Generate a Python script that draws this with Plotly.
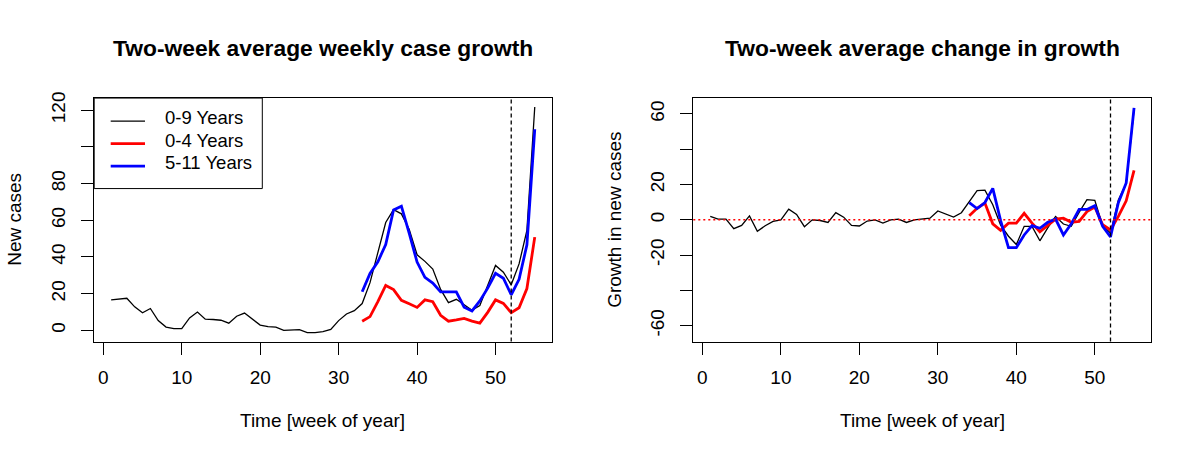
import plotly.graph_objects as go

# ---------------- data ----------------
weeks_all = list(range(1, 56))
weeks_late = list(range(33, 56))
weeks_late_r = list(range(34, 56))

cases_0_9 = [16.6, 17.0, 17.5, 12.8, 9.6, 11.9, 5.3, 1.8, 0.9, 0.9,
             6.8, 10.0, 6.1, 5.9, 5.5, 3.9, 7.7, 9.4, 6.0, 2.9,
             2.0, 1.8, 0.0, 0.0, 0.4, -1.2, -1.2, -0.7, 0.5, 5.3,
             8.9, 10.7, 14.6, 26.0, 42.0, 58.8, 65.8, 63.5, 55.0, 41.2,
             37.6, 33.4, 22.3, 15.1, 16.9, 14.0, 11.0, 13.5, 24.6, 35.4,
             31.7, 24.8, 36.2, 54.5, 121.7]
cases_0_4 = [5.0, 7.5, 15.7, 24.5, 22.2, 16.4, 14.5, 12.5, 16.6, 15.6,
             8.2, 5.0, 5.7, 6.5, 5.0, 3.9, 9.8, 16.6, 14.7, 9.6,
             12.3, 22.8, 50.8]
cases_5_11 = [21.0, 31.0, 37.4, 46.8, 65.6, 67.7, 52.8, 37.2, 28.9, 25.8,
              21.0, 20.8, 21.0, 12.6, 10.6, 16.0, 23.0, 31.1, 28.4, 19.4,
              27.8, 46.6, 109.6]

growth_0_9 = [1.9, 0.4, 0.4, -5.0, -3.2, 2.2, -6.5, -3.4, -0.9, 0.0,
              6.0, 3.0, -3.9, 0.0, -0.4, -1.5, 4.1, 1.5, -3.2, -3.5,
              -0.7, 0.0, -1.9, 0.0, 0.4, -1.5, 0.0, 0.4, 0.9, 5.0,
              3.4, 1.5, 4.0, 10.3, 16.6, 16.8, 8.5, -3.0, -9.3, -14.0,
              -3.7, -3.7, -11.9, -4.6, 1.9, -2.4, -3.7, 4.2, 11.4, 11.0,
              -3.3, -7.5, 11.2, 20.5, 62.4]
growth_0_4 = [2.3, 6.5, 9.5, -2.3, -6.0, -1.9, -1.9, 3.7, -1.9, -6.8,
              -3.2, 0.4, 0.9, -1.4, -0.9, 4.7, 7.3, -2.8, -5.8, 1.9,
              10.8, 28.0]
growth_5_11 = [9.7, 6.4, 9.8, 17.8, -0.5, -15.8, -15.8, -8.6, -3.3, -4.8,
               -1.4, 0.4, -8.6, -2.3, 5.9, 5.9, 8.0, -3.7, -9.7, 9.7,
               20.9, 63.4]

x_ticks = [0, 10, 20, 30, 40, 50]
x_ticktext = ["0", "10", "20", "30", "40", "50"]
y1_ticks = [0, 20, 40, 60, 80, 100, 120]
y1_ticktext = ["0", "20", "40", "60", "80", "", "120"]
y2_ticks = [-60, -40, -20, 0, 20, 40, 60]
y2_ticktext = ["-60", "", "-20", "0", "20", "", "60"]

week_marker = 52
series_names = ["0-9 Years", "0-4 Years", "5-11 Years"]
colors = ["#000000", "#FF0000", "#0000FF"]
widths = [1.3, 2.8, 2.8]

# ---------------- figure ----------------
FONT = "Liberation Sans, Arial, Helvetica, sans-serif"
W, H = 1200, 457


def px(x):
    return x / W


def py(y):
    return 1 - y / H


fig = go.Figure()

left_series = [(weeks_all, cases_0_9), (weeks_late, cases_0_4), (weeks_late, cases_5_11)]
right_series = [(weeks_all, growth_0_9), (weeks_late_r, growth_0_4), (weeks_late_r, growth_5_11)]
for i, (xs, ys) in enumerate(left_series):
    fig.add_trace(go.Scatter(x=xs, y=ys, mode="lines", name=series_names[i], showlegend=False,
                             line=dict(color=colors[i], width=widths[i]), xaxis="x", yaxis="y"))
for i, (xs, ys) in enumerate(right_series):
    fig.add_trace(go.Scatter(x=xs, y=ys, mode="lines", name=series_names[i], showlegend=False,
                             line=dict(color=colors[i], width=widths[i]), xaxis="x2", yaxis="y2"))

# panel boxes in pixels
L1, R1 = 94.2, 551.7
L2, R2 = 693.3, 1151.0
TOP, BOT = 93.3, 340.0
ydom = [py(BOT), py(TOP)]

common_x = dict(range=[-1.16, 57.16], tickvals=x_ticks, ticktext=x_ticktext,
                ticks="outside", ticklen=12, tickwidth=1, tickcolor="black",
                showline=True, linecolor="black", linewidth=1, mirror=True,
                showgrid=False, zeroline=False, ticklabelstandoff=7,
                tickfont=dict(family=FONT, size=19, color="black"))
common_y = dict(ticks="outside", ticklen=12, tickwidth=1, tickcolor="black",
                showline=True, linecolor="black", linewidth=1, mirror=True,
                showgrid=False, zeroline=False, tickangle=-90, ticklabelstandoff=9,
                tickfont=dict(family=FONT, size=19, color="black"))

fig.update_layout(
    width=W, height=H,
    margin=dict(l=0, r=0, t=0, b=0),
    paper_bgcolor="white", plot_bgcolor="white",
    font=dict(family=FONT, color="black"),
    xaxis=dict(domain=[px(L1), px(R1)], anchor="y", **common_x),
    yaxis=dict(domain=ydom, anchor="x", range=[-6.1, 126.6],
               tickvals=y1_ticks, ticktext=y1_ticktext, **common_y),
    xaxis2=dict(domain=[px(L2), px(R2)], anchor="y2", **common_x),
    yaxis2=dict(domain=ydom, anchor="x2", range=[-69, 69],
                tickvals=y2_ticks, ticktext=y2_ticktext, **common_y),
    showlegend=False,
)

# reference lines
shapes = [
    dict(type="line", xref="x", yref="y domain", x0=week_marker, x1=week_marker, y0=0, y1=1,
         line=dict(color="black", width=1.3, dash="4px,3px")),
    dict(type="line", xref="x2", yref="y2 domain", x0=week_marker, x1=week_marker, y0=0, y1=1,
         line=dict(color="black", width=1.3, dash="4px,3px")),
    dict(type="line", xref="x2 domain", yref="y2", x0=0, x1=1, y0=0, y1=0,
         line=dict(color="#FF0000", width=1.5, dash="2px,3px")),
]

# legend (drawn like R's legend box)
LEG_L, LEG_R, LEG_T, LEG_B = 94.2, 262.3, 93.3, 185.0
shapes.append(dict(type="rect", xref="paper", yref="paper",
                   x0=px(LEG_L), x1=px(LEG_R), y0=py(LEG_B), y1=py(LEG_T),
                   line=dict(color="black", width=1), fillcolor="white", layer="above"))
ann = []
row_y = [116.7, 139.5, 162.3]
for i, name in enumerate(series_names):
    shapes.append(dict(type="line", xref="paper", yref="paper",
                       x0=px(110.7), x1=px(145.0), y0=py(row_y[i]), y1=py(row_y[i]),
                       line=dict(color=colors[i], width=widths[i]), layer="above"))
    ann.append(dict(text=name, x=px(162.7), y=py(row_y[i] - 3.5), xref="paper", yref="paper",
                    showarrow=False, xanchor="left", yanchor="middle",
                    font=dict(family=FONT, size=18.5, color="black")))
fig.update_layout(shapes=shapes)

ann.append(dict(text="<b>Two-week average weekly case growth</b>", x=px((L1 + R1) / 2), y=py(43),
                xref="paper", yref="paper", showarrow=False, xanchor="center", yanchor="middle",
                font=dict(family=FONT, size=22.8, color="black")))
ann.append(dict(text="<b>Two-week average change in growth</b>", x=px((L2 + R2) / 2), y=py(43),
                xref="paper", yref="paper", showarrow=False, xanchor="center", yanchor="middle",
                font=dict(family=FONT, size=22.8, color="black")))
for cx in [(L1 + R1) / 2, (L2 + R2) / 2]:
    ann.append(dict(text="Time [week of year]", x=px(cx), y=py(420),
                    xref="paper", yref="paper", showarrow=False, xanchor="center", yanchor="middle",
                    font=dict(family=FONT, size=19, color="black")))
ann.append(dict(text="New cases", x=px(15), y=py((TOP + BOT) / 2), textangle=-90,
                xref="paper", yref="paper", showarrow=False, xanchor="center", yanchor="middle",
                font=dict(family=FONT, size=19, color="black")))
ann.append(dict(text="Growth in new cases", x=px(615), y=py((TOP + BOT) / 2), textangle=-90,
                xref="paper", yref="paper", showarrow=False, xanchor="center", yanchor="middle",
                font=dict(family=FONT, size=19, color="black")))
fig.update_layout(annotations=ann)

fig.write_html("out.html", config={"displayModeBar": False},
               post_script="document.body.style.margin='0';")
